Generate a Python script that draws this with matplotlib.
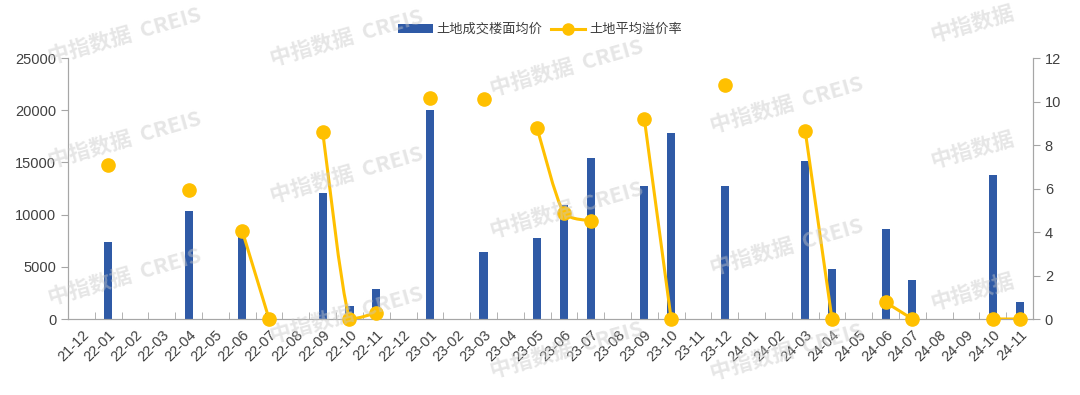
import numpy as np
import matplotlib
matplotlib.use('Agg')
import matplotlib.pyplot as plt
import matplotlib.transforms as mtransforms
from matplotlib.path import Path
from matplotlib.patches import PathPatch, Patch
from matplotlib.lines import Line2D

plt.rcParams['font.family'] = ['Noto Sans CJK SC', 'DejaVu Sans']

months = ['21-12', '22-01', '22-02', '22-03', '22-04', '22-05', '22-06', '22-07', '22-08',
          '22-09', '22-10', '22-11', '22-12', '23-01', '23-02', '23-03', '23-04', '23-05',
          '23-06', '23-07', '23-08', '23-09', '23-10', '23-11', '23-12', '24-01', '24-02',
          '24-03', '24-04', '24-05', '24-06', '24-07', '24-08', '24-09', '24-10', '24-11']
nan = np.nan
# 土地成交楼面均价 (元/平方米)
price = [nan, 7400, nan, nan, 10350, nan, 7900, 600, nan,
         12100, 1200, 2900, nan, 20000, nan, 6400, nan, 7800,
         10900, 15450, nan, 12700, 17850, nan, 12750, nan, nan,
         15150, 4750, nan, 8600, 3700, nan, nan, 13800, 1600]
# 土地平均溢价率 (%)
premium = [nan, 7.07, nan, nan, 5.93, nan, 4.05, 0.0, nan,
           8.61, 0.0, 0.28, nan, 10.15, nan, 10.1, nan, 8.77,
           4.86, 4.52, nan, 9.2, 0.0, nan, 10.76, nan, nan,
           8.66, 0.0, nan, 0.77, 0.0, nan, nan, 0.0, 0.0]

bar_color = '#2F5AA6'
line_color = '#FFC000'
txt_color = '#404040'
spine_color = '#A6A6A6'
num_font = ['Liberation Sans', 'DejaVu Sans']


def smooth_path(xs, ys):
    # Catmull-Rom style bezier through consecutive points, control y kept inside each step
    verts = [(xs[0], ys[0])]
    codes = [Path.MOVETO]
    n = len(xs)
    for i in range(n - 1):
        p0 = (xs[max(i - 1, 0)], ys[max(i - 1, 0)])
        p1 = (xs[i], ys[i])
        p2 = (xs[i + 1], ys[i + 1])
        p3 = (xs[min(i + 2, n - 1)], ys[min(i + 2, n - 1)])
        lo, hi = min(p1[1], p2[1]), max(p1[1], p2[1])
        c1 = (p1[0] + (p2[0] - p0[0]) / 6, np.clip(p1[1] + (p2[1] - p0[1]) / 6, lo, hi))
        c2 = (p2[0] - (p3[0] - p1[0]) / 6, np.clip(p2[1] - (p3[1] - p1[1]) / 6, lo, hi))
        verts += [c1, c2, p2]
        codes += [Path.CURVE4] * 3
    return Path(verts, codes)


x = np.arange(len(months))
fig = plt.figure(figsize=(10.8, 3.95), dpi=100)
ax = fig.add_axes([0.063, 0.1924, 0.8935, 0.6606])
ax2 = ax.twinx()

ax.bar(x, price, width=0.3, color=bar_color, zorder=2)

# line segments between consecutive months that both have a value
p = np.array(premium, dtype=float)
seg = []
for i in range(len(p)):
    if not np.isnan(p[i]):
        seg.append(i)
    if (np.isnan(p[i]) or i == len(p) - 1) and seg:
        if len(seg) > 1:
            ax2.add_patch(PathPatch(smooth_path(x[seg], p[seg]), facecolor='none',
                                    edgecolor=line_color, lw=2.2, zorder=3))
        seg = []
ax2.plot(x, p, 'o', color=line_color, markersize=9.5, zorder=4, clip_on=False)

ax.set_xlim(-0.5, len(months) - 0.5)
ax.set_ylim(0, 25000)
ax.set_yticks(range(0, 25001, 5000))
ax2.set_ylim(0, 12)
ax2.set_yticks(range(0, 13, 2))

ax.set_xticks(x)
ax.set_xticklabels(months, rotation=45, ha='right', va='top', rotation_mode='anchor',
                   fontsize=10.5, color=txt_color, family=num_font)
shift = mtransforms.ScaledTranslation(8 / 100, 0, fig.dpi_scale_trans)
for lab in ax.get_xticklabels():
    lab.set_transform(lab.get_transform() + shift)
ax.tick_params(axis='x', which='major', length=0, pad=6)
ax.set_xticks(np.arange(-0.5, len(months), 1), minor=True)
ax.tick_params(axis='x', which='minor', direction='in', length=5, color=spine_color)
ax.tick_params(axis='y', length=5, color=spine_color, labelsize=10.5, labelcolor=txt_color)
ax2.tick_params(axis='y', length=5, color=spine_color, labelsize=10.5, labelcolor=txt_color)
for lab in ax.get_yticklabels() + ax2.get_yticklabels():
    lab.set_family(num_font)

for a in (ax, ax2):
    a.spines['top'].set_visible(False)
    for s in ('left', 'right', 'bottom'):
        a.spines[s].set_color(spine_color)

handles = [Patch(facecolor=bar_color),
           Line2D([0], [0], color=line_color, lw=2.2, marker='o', markersize=8)]
fig.legend(handles, ['土地成交楼面均价', '土地平均溢价率'], loc='center', ncol=2,
           bbox_to_anchor=(0.5, 0.925), frameon=False, fontsize=9.5, handlelength=2.6,
           handleheight=0.6, columnspacing=0.6, handletextpad=0.3, labelcolor=txt_color)

# 水印
marks = [(125, 36, 1), (125, 140, 1), (125, 277, 1),
         (347, 38, 1), (347, 175, 1), (347, 315, 1),
         (567, 68, 1), (567, 210, 1), (567, 350, 1),
         (787, 105, 1), (787, 247, 1), (787, 352, 1),
         (972, 24, 0), (972, 150, 0), (972, 292, 0)]
for mx, my, full in marks:
    fig.text(mx / 1080, 1 - my / 395, '中指数据  CREIS' if full else '中指数据',
             rotation=16, ha='center', va='center', fontsize=15.5, fontweight='bold',
             color='#C8C8C8', alpha=0.45, zorder=10)

fig.savefig('out.png', dpi=100)
